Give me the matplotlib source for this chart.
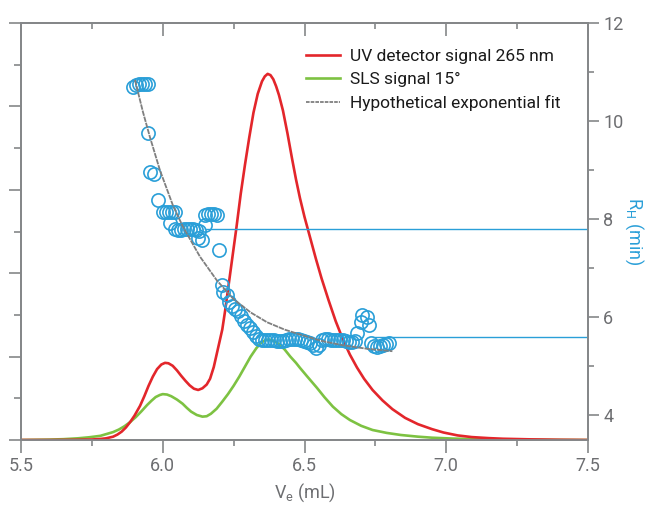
import matplotlib
matplotlib.use('Agg')
import matplotlib.pyplot as plt
from matplotlib.ticker import MultipleLocator
from matplotlib.lines import Line2D

plt.rcParams['font.family'] = ['Roboto', 'DejaVu Sans']
plt.rcParams['mathtext.fontset'] = 'custom'
plt.rcParams['mathtext.rm'] = 'Roboto'
plt.rcParams['mathtext.it'] = 'Roboto:italic'

# ---- data ----
uv_x = [5.5, 5.6, 5.65, 5.7, 5.75, 5.78, 5.8, 5.825, 5.84, 5.855, 5.87, 5.885, 5.90, 5.92,
        5.935, 5.95, 5.965, 5.98, 5.995, 6.008, 6.02, 6.035, 6.05, 6.065, 6.08, 6.095, 6.11,
        6.125, 6.14, 6.155, 6.167, 6.18, 6.19, 6.2, 6.21, 6.22, 6.23, 6.245, 6.26, 6.275,
        6.29, 6.305, 6.32, 6.335, 6.35, 6.36, 6.37, 6.38, 6.39, 6.40, 6.41, 6.424, 6.44,
        6.456, 6.47, 6.484, 6.50, 6.52, 6.54, 6.56, 6.585, 6.61, 6.635, 6.66, 6.685, 6.71,
        6.74, 6.775, 6.81, 6.855, 6.90, 6.95, 6.99, 7.04, 7.09, 7.15, 7.2, 7.3, 7.4, 7.5]
uv_y = [0.0, 0.0, 0.002, 0.005, 0.012, 0.025, 0.04, 0.08, 0.13, 0.2, 0.3, 0.43, 0.58, 0.82,
        1.05, 1.3, 1.52, 1.7, 1.81, 1.85, 1.84, 1.78, 1.67, 1.54, 1.42, 1.31, 1.23,
        1.2, 1.24, 1.33, 1.47, 1.75, 2.05, 2.35, 2.65, 3.1, 3.6, 4.35, 5.1, 5.9,
        6.6, 7.25, 7.85, 8.3, 8.6, 8.72, 8.78, 8.75, 8.65, 8.48, 8.27, 7.9, 7.35,
        6.75, 6.25, 5.8, 5.35, 4.85, 4.35, 3.88, 3.35, 2.85, 2.42, 2.05, 1.74, 1.47,
        1.2, 0.95, 0.74, 0.53, 0.38, 0.26, 0.18, 0.11, 0.07, 0.045, 0.03, 0.015, 0.005, 0.0]

sls_x = [5.5, 5.6, 5.65, 5.7, 5.74, 5.78, 5.80, 5.825, 5.845, 5.865, 5.885, 5.905, 5.925,
         5.945, 5.96, 5.975, 5.99, 6.0, 6.015, 6.03, 6.05, 6.07, 6.085, 6.10, 6.12, 6.14,
         6.155, 6.17, 6.19, 6.21, 6.23, 6.25, 6.27, 6.29, 6.31, 6.33, 6.345, 6.36, 6.375,
         6.39, 6.41, 6.43, 6.45, 6.47, 6.484, 6.51, 6.544, 6.57, 6.60, 6.63, 6.66, 6.70,
         6.74, 6.79, 6.84, 6.9, 6.95, 7.02, 7.1, 7.2, 7.3, 7.5]
sls_y = [0.0, 0.01, 0.02, 0.04, 0.065, 0.1, 0.14, 0.19, 0.25, 0.33, 0.43, 0.55, 0.69,
         0.84, 0.94, 1.03, 1.08, 1.1, 1.09, 1.05, 0.97, 0.87, 0.77, 0.68, 0.6, 0.56,
         0.57, 0.63, 0.75, 0.92, 1.1, 1.3, 1.52, 1.76, 2.0, 2.2, 2.32, 2.39, 2.41,
         2.38, 2.3, 2.17, 2.0, 1.85, 1.73, 1.52, 1.25, 1.03, 0.8, 0.62, 0.48, 0.34,
         0.24, 0.17, 0.12, 0.08, 0.055, 0.035, 0.02, 0.01, 0.005, 0.0]

fit_x = [5.902, 5.93, 5.955, 5.99, 6.036, 6.071, 6.131, 6.19, 6.248, 6.31, 6.368, 6.43,
         6.484, 6.56, 6.636, 6.72, 6.81]
fit_y = [10.84, 10.19, 9.67, 9.0, 8.28, 7.85, 7.24, 6.76, 6.38, 6.1, 5.9, 5.75,
         5.65, 5.52, 5.43, 5.36, 5.31]

rh_x = [5.895, 5.906, 5.916, 5.927, 5.937, 5.948,
        5.948, 5.955, 5.969, 5.983,
        6.001, 6.011, 6.022, 6.033, 6.043, 6.026,
        6.043, 6.054, 6.064, 6.075, 6.086, 6.096, 6.107, 6.117, 6.128,
        6.124, 6.138,
        6.149, 6.160, 6.170, 6.181, 6.191, 6.149, 6.198,
        6.209, 6.212, 6.226, 6.233, 6.244, 6.254, 6.265, 6.276, 6.286, 6.297, 6.307, 6.318,
        6.328, 6.339,
        6.350, 6.360, 6.371, 6.381, 6.392, 6.403, 6.413, 6.424, 6.434, 6.445, 6.456, 6.466,
        6.477, 6.487, 6.498, 6.508, 6.519, 6.529, 6.540, 6.550, 6.561, 6.572, 6.582, 6.593,
        6.603, 6.614, 6.624, 6.635, 6.645, 6.656, 6.667, 6.677,
        6.684, 6.698, 6.702, 6.720, 6.727,
        6.734, 6.744, 6.755, 6.766, 6.776, 6.787, 6.797]
rh_y = [10.70, 10.74, 10.76, 10.76, 10.76, 10.76,
        9.76, 8.96, 8.92, 8.39,
        8.15, 8.15, 8.15, 8.15, 8.15, 7.92,
        7.80, 7.78, 7.78, 7.80, 7.80, 7.80, 7.80, 7.78, 7.76,
        7.62, 7.58,
        8.09, 8.11, 8.11, 8.11, 8.09, 7.88, 7.37,
        6.66, 6.52, 6.46, 6.31, 6.23, 6.17, 6.13, 6.03, 5.93, 5.84, 5.78, 5.70,
        5.62, 5.56,
        5.54, 5.54, 5.54, 5.54, 5.54, 5.52, 5.52, 5.52, 5.54, 5.56, 5.56, 5.56,
        5.56, 5.54, 5.52, 5.50, 5.48, 5.44, 5.38, 5.44, 5.54, 5.56, 5.56, 5.54,
        5.54, 5.54, 5.54, 5.54, 5.52, 5.50, 5.50, 5.52,
        5.68, 5.91, 6.05, 6.01, 5.84,
        5.48, 5.42, 5.40, 5.42, 5.44, 5.46, 5.48]

level_values = [7.8, 5.6]
level_starts = [6.15, 6.74]

x_ticks = [5.5, 6.0, 6.5, 7.0, 7.5]
x_tick_labels = ['5.5', '6.0', '6.5', '7.0', '7.5']
rh_ticks = [4, 6, 8, 10, 12]

# ---- style ----
RED = '#e3262b'
GREEN = '#7dc242'
BLUE = '#2a9fd8'
GRAY = '#7f7f7f'
AXC = '#858789'
TXT = '#6d6e71'

fig = plt.figure(figsize=(6.57, 5.11), dpi=100)
ax = fig.add_axes([21/657, 1-440/511, (588-21)/657, (440-23)/511])
ax2 = ax.twinx()

ax.plot(uv_x, uv_y, color=RED, lw=1.9, zorder=3, solid_joinstyle='round')
ax.plot(sls_x, sls_y, color=GREEN, lw=1.9, zorder=2, solid_joinstyle='round')
ax.set_xlim(5.5, 7.5)
ax.set_ylim(0, 10)

for v, s in zip(level_values, level_starts):
    ax2.plot([s, 7.5], [v, v], color=BLUE, lw=1.0, zorder=1)
ax2.plot(rh_x, rh_y, linestyle='none', marker='o', ms=9.5, mfc='none',
         mec=BLUE, mew=1.2, zorder=2)
ax2.plot(fit_x, fit_y, color=GRAY, lw=1.3, linestyle=(0, (3, 0.5)), zorder=3)
ax2.set_ylim(3.5, 12)
ax2.set_xlim(5.5, 7.5)

# spines
for a in (ax, ax2):
    for sp in a.spines.values():
        sp.set_color(AXC)
        sp.set_linewidth(1.3)

# x axis (bottom, outward)
ax.set_xticks(x_ticks)
ax.set_xticklabels(x_tick_labels)
ax.xaxis.set_minor_locator(MultipleLocator(0.25))
ax.tick_params(axis='x', which='major', direction='out', length=9, width=1.2,
               color=AXC, labelcolor=TXT, labelsize=13, pad=3)
ax.tick_params(axis='x', which='minor', direction='out', length=4, width=1.2, color=AXC)

# top ticks inward
sec = ax.secondary_xaxis('top')
sec.set_xticks(x_ticks)
sec.xaxis.set_minor_locator(MultipleLocator(0.25))
sec.tick_params(axis='x', which='major', direction='in', length=9, width=1.2,
                color=AXC, labeltop=False)
sec.tick_params(axis='x', which='minor', direction='in', length=4, width=1.2, color=AXC)
sec.spines['top'].set_color(AXC)
sec.spines['top'].set_linewidth(1.3)

# left axis: ticks only
ax.yaxis.set_major_locator(MultipleLocator(2))
ax.yaxis.set_minor_locator(MultipleLocator(1))
ax.tick_params(axis='y', which='major', direction='out', length=9, width=1.2,
               color=AXC, labelleft=False)
ax.tick_params(axis='y', which='minor', direction='out', length=5, width=1.2, color=AXC)

# right axis
ax2.set_yticks(rh_ticks)
ax2.yaxis.set_minor_locator(MultipleLocator(1))
ax2.tick_params(axis='y', which='major', direction='out', length=8, width=1.2,
                color=AXC, labelcolor=TXT, labelsize=13, pad=3)
ax2.tick_params(axis='y', which='minor', direction='out', length=4, width=1.2, color=AXC)

ax.set_xlabel(r'V$_\mathrm{e}$ (mL)', color=TXT, fontsize=13, labelpad=5)
ax2.set_ylabel(r'R$_\mathrm{H}$ (min)', color=BLUE, fontsize=13, rotation=270, labelpad=16)

handles = [Line2D([], [], color=RED, lw=1.9),
           Line2D([], [], color=GREEN, lw=1.9),
           Line2D([], [], color=GRAY, lw=1.3, linestyle=(0, (2, 0.6)))]
labels = ['UV detector signal 265 nm', 'SLS signal 15°', 'Hypothetical exponential fit']
leg = ax2.legend(handles, labels, loc='upper left', bbox_to_anchor=(297/657, 1-40/511),
                 bbox_transform=fig.transFigure, frameon=False, fontsize=12.5,
                 handlelength=2.0, handletextpad=0.55, labelspacing=0.45, borderpad=0)
for t in leg.get_texts():
    t.set_color('#1a1a1a')

fig.savefig('out.png', dpi=100)
